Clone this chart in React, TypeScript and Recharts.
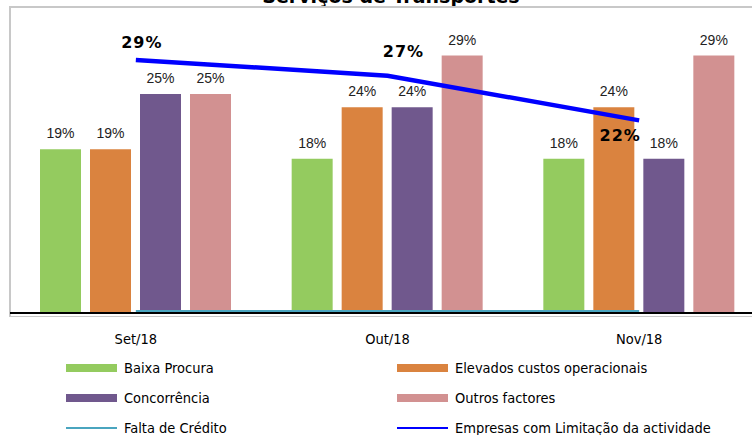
import { ComposedChart, Bar, Line, XAxis, YAxis, LabelList } from 'recharts';

const months = ['Set/18', 'Out/18', 'Nov/18'];
const baixaProcura = [18.7, 17.6, 17.6];
const elevadosCustos = [18.7, 23.5, 23.5];
const concorrencia = [25.0, 23.5, 17.6];
const outrosFactores = [25.0, 29.4, 29.4];
const faltaCredito = [0, 0, 0];
const empresasLimitacao = [28.9, 27.1, 22.0];

const seriesNames = {
  baixa: 'Baixa Procura',
  elevados: 'Elevados custos operacionais',
  concorrencia: 'Concorrência',
  outros: 'Outros factores',
  falta: 'Falta de Crédito',
  empresas: 'Empresas com Limitação da actividade',
};

const colors = {
  baixa: '#94CB5F',
  elevados: '#DA833F',
  concorrencia: '#70588D',
  outros: '#D29191',
  falta: '#4AA5BF',
  empresas: '#0000FF',
};

const data = months.map((m, i) => ({
  month: m,
  baixa: baixaProcura[i],
  elevados: elevadosCustos[i],
  concorrencia: concorrencia[i],
  outros: outrosFactores[i],
  falta: faltaCredito[i],
  empresas: empresasLimitacao[i],
}));

const pct = (v: any) => `${Math.round(Number(v))}%`;

// hand placed like the excel labels
const lineLabelShift = [
  { dx: 6, dy: -12 },
  { dx: 16, dy: -19 },
  { dx: -19, dy: 21 },
];

const barLabelStyle = { fontFamily: '"Liberation Sans", Arial, sans-serif', fontSize: 14, fill: '#222' };

function LineLabel(props: any) {
  const { x, y, value, index } = props;
  const s = lineLabelShift[index] || { dx: 0, dy: -10 };
  return (
    <text
      x={x + s.dx}
      y={y + s.dy}
      textAnchor="middle"
      fontFamily='"DejaVu Sans", Verdana, sans-serif'
      fontWeight="bold"
      fontSize={16}
      letterSpacing={1}
      fill="#000"
    >
      {pct(value)}
    </text>
  );
}

const legendRows = [
  ['baixa', 'elevados'],
  ['concorrencia', 'outros'],
  ['falta', 'empresas'],
] as const;

function LegendBox() {
  const lineKeys = ['falta', 'empresas'];
  return (
    <div style={{ position: 'absolute', left: 0, top: 354, width: 752 }}>
      {legendRows.map((row, r) => (
        <div key={r} style={{ position: 'absolute', top: r * 30, left: 0, width: 752, height: 28 }}>
          {row.map((k, c) => (
            <div
              key={k}
              style={{
                position: 'absolute',
                left: c === 0 ? 66 : 397,
                top: 0,
                height: 28,
                display: 'flex',
                alignItems: 'center',
                fontFamily: '"DejaVu Sans Condensed", "DejaVu Sans", sans-serif',
                fontSize: 14.5,
                lineHeight: '16px',
                color: '#000',
                whiteSpace: 'nowrap',
              }}
            >
              <span
                style={{
                  display: 'inline-block',
                  width: 51,
                  height: lineKeys.includes(k) ? 2.5 : 8,
                  background: colors[k],
                  marginRight: 7,
                }}
              />
              {seriesNames[k]}
            </div>
          ))}
        </div>
      ))}
    </div>
  );
}

export default function App() {
  return (
    <div style={{ position: 'relative', width: 752, height: 435, overflow: 'hidden', background: '#fff' }}>
      <style>{'body{margin:0}'}</style>
      <div
        style={{
          position: 'absolute',
          left: 0,
          width: 782,
          top: -12,
          lineHeight: '16px',
          textAlign: 'center',
          fontFamily: '"DejaVu Sans", Verdana, sans-serif',
          fontWeight: 'bold',
          fontSize: 19,
        }}
      >
        Serviços de Transportes
      </div>
      <div
        style={{
          position: 'absolute',
          left: 9,
          top: 5.5,
          width: 800,
          height: 308,
          borderTop: '2px solid #c8c8c8',
          borderLeft: '2px solid #c8c8c8',
          borderBottom: '1.5px solid #c8c8c8',
        }}
      />
      <div style={{ position: 'absolute', left: 0, top: 0 }}>
        <ComposedChart
          width={770}
          height={435}
          data={data}
          margin={{ top: 6.5, right: 5, left: 10, bottom: 92 }}
          barCategoryGap={30}
          barGap={9}
        >
          <XAxis
            dataKey="month"
            axisLine={false}
            tickLine={false}
            tickSize={0}
            tickMargin={21}
            height={30}
            tick={{ fontFamily: '"DejaVu Sans Condensed", "DejaVu Sans", sans-serif', fontSize: 14.5, fill: '#000' }}
          />
          <YAxis hide domain={[0, 35]} />
          <Bar dataKey="baixa" name={seriesNames.baixa} fill={colors.baixa} isAnimationActive={false}>
            <LabelList dataKey="baixa" position="top" offset={11} formatter={pct} style={barLabelStyle} />
          </Bar>
          <Bar dataKey="elevados" name={seriesNames.elevados} fill={colors.elevados} isAnimationActive={false}>
            <LabelList dataKey="elevados" position="top" offset={11} formatter={pct} style={barLabelStyle} />
          </Bar>
          <Bar dataKey="concorrencia" name={seriesNames.concorrencia} fill={colors.concorrencia} isAnimationActive={false}>
            <LabelList dataKey="concorrencia" position="top" offset={11} formatter={pct} style={barLabelStyle} />
          </Bar>
          <Bar dataKey="outros" name={seriesNames.outros} fill={colors.outros} isAnimationActive={false}>
            <LabelList dataKey="outros" position="top" offset={11} formatter={pct} style={barLabelStyle} />
          </Bar>
          <Line
            dataKey="falta"
            name={seriesNames.falta}
            stroke={colors.falta}
            strokeWidth={3}
            dot={false}
            transform="translate(0,-1.5)"
            isAnimationActive={false}
          />
          <Line
            dataKey="empresas"
            name={seriesNames.empresas}
            stroke={colors.empresas}
            strokeWidth={4.5}
            dot={false}
            isAnimationActive={false}
          >
            <LabelList dataKey="empresas" content={<LineLabel />} />
          </Line>
        </ComposedChart>
      </div>
      {/* category axis line, drawn over the bars like in excel */}
      <div style={{ position: 'absolute', left: 10, top: 312, width: 742, height: 1.5, background: '#000' }} />
      <LegendBox />
    </div>
  );
}
